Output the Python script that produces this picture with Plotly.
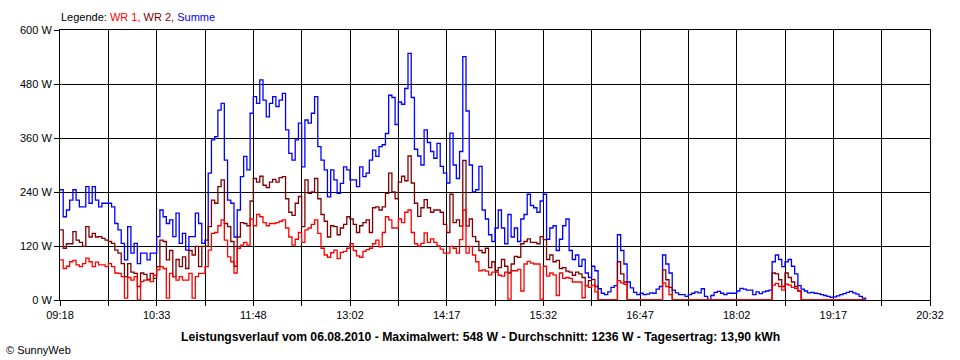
import plotly.graph_objects as go

# ---------------- data ----------------
START_LABEL = "09:18"          # first sample time
STEP_MIN = 2.5                 # sampling interval in minutes

# WR 1 (red)
wr1 = [
    89, 70, 75, 85, 88, 78, 74, 81, 93, 85,
    74, 84, 78, 78, 74, 81, 74, 60, 59, 52,
    4, 50, 44, 52, 0, 41, 44, 44, 41, 55,
    67, 74, 70, 4, 59, 52, 44, 52, 44, 44,
    59, 4, 52, 59, 59, 74, 111, 148, 150, 165,
    178, 133, 96, 85, 60, 115, 122, 128, 122, 180,
    165, 190, 185, 172, 165, 170, 170, 172, 175, 178,
    160, 140, 122, 135, 150, 128, 156, 160, 168, 178,
    148, 115, 100, 95, 105, 111, 92, 106, 108, 115,
    125, 110, 98, 95, 108, 112, 115, 125, 133, 118,
    150, 185, 178, 160, 160, 180, 172, 195, 200, 150,
    125, 120, 126, 149, 128, 136, 128, 120, 113, 104,
    104, 119, 115, 104, 134, 200, 104, 119, 100, 85,
    65, 67, 64, 56, 62, 62, 55, 53, 62, 2,
    65, 65, 68, 20, 80, 86, 82, 80, 80, 2,
    75, 53, 60, 56, 10, 60, 48, 50, 48, 40,
    40, 40, 5, 32, 28, 33, 18, 0, 0, 0,
    0, 0, 0, 43, 38, 35, 0, 0, 0, 0,
    0, 0, 0, 0, 0, 0, 0, 38, 30, 12,
    0, 0, 0, 0, 0, 0, 0, 0, 0, 0,
    0, 0, 0, 0, 0, 0, 0, 0, 0, 0,
    0, 0, 0, 0, 0, 0, 0, 0, 0, 0,
    0, 33, 37, 30, 22, 35, 33, 28, 26, 20,
    0, 0, 0, 0, 0, 0, 0, 0, 0, 0,
    0, 0, 0, 0, 0, 0, 0, 0, 0, 0,
    0,
]

# WR 2 (dark red)
wr2 = [
    156, 115, 125, 125, 152, 133, 128, 119, 163, 140,
    148, 140, 141, 137, 133, 130, 126, 111, 104, 81,
    52, 81, 62, 59, 30, 60, 57, 46, 59, 48,
    74, 133, 130, 89, 110, 52, 90, 74, 96, 70,
    110, 100, 119, 74, 119, 119, 163, 222, 215, 252,
    267, 170, 163, 130, 75, 140, 172, 170, 165, 220,
    270, 262, 275, 255, 250, 262, 268, 262, 272, 274,
    225, 195, 188, 215, 230, 163, 267, 237, 240, 270,
    225, 190, 175, 140, 165, 163, 145, 160, 168, 185,
    180, 168, 150, 165, 172, 178, 150, 205, 207, 200,
    207, 237, 282, 240, 225, 262, 275, 265, 320, 260,
    215, 186, 205, 223, 205, 195, 200, 200, 195, 168,
    150, 235, 172, 178, 164, 310, 164, 180, 141, 130,
    110, 105, 115, 72, 85, 65, 72, 90, 75, 60,
    80, 97, 95, 125, 130, 136, 128, 128, 125, 141,
    134, 90, 100, 85, 88, 70, 72, 64, 62, 55,
    62, 58, 50, 32, 43, 46, 30, 0, 0, 0,
    0, 0, 0, 85, 58, 40, 0, 0, 0, 0,
    0, 0, 0, 0, 0, 0, 0, 67, 45, 28,
    0, 0, 0, 0, 0, 0, 0, 0, 0, 0,
    0, 0, 0, 0, 0, 0, 0, 0, 0, 0,
    0, 0, 0, 0, 0, 0, 0, 0, 0, 0,
    0, 60, 58, 45, 30, 60, 50, 40, 30, 20,
    0, 0, 0, 0, 0, 0, 0, 0, 0, 0,
    0, 0, 0, 0, 0, 0, 0, 0, 0, 0,
    0,
]

# Summe (blue)
summe = [
    245, 185, 200, 222, 245, 222, 207, 207, 252, 215,
    252, 222, 207, 215, 215, 215, 207, 170, 156, 126,
    89, 163, 104, 126, 81, 104, 104, 89, 104, 104,
    141, 200, 185, 170, 178, 141, 193, 126, 148, 111,
    141, 141, 193, 170, 126, 133, 282, 356, 363, 422,
    437, 311, 222, 215, 140, 200, 274, 319, 289, 415,
    452, 437, 489, 444, 407, 437, 452, 430, 444, 459,
    378, 326, 311, 356, 393, 296, 400, 393, 415, 452,
    341, 311, 289, 229, 289, 267, 237, 259, 296, 289,
    267, 267, 252, 296, 274, 282, 311, 333, 319, 341,
    345, 370, 455, 450, 390, 440, 435, 470, 548, 450,
    335, 320, 300, 378, 350, 330, 315, 348, 297, 282,
    260, 371, 300, 270, 330, 541, 420, 300, 240, 245,
    297, 200, 180, 145, 130, 160, 200, 160, 125, 190,
    140, 160, 130, 180, 190, 235, 210, 205, 195, 220,
    235, 135, 160, 165, 110, 135, 165, 180, 110, 90,
    100, 75, 90, 60, 50, 75, 65, 25, 15, 12,
    18, 28, 32, 145, 110, 80, 40, 27, 17, 12,
    15, 12, 13, 16, 15, 24, 30, 100, 80, 60,
    22, 16, 12, 12, 8, 12, 15, 18, 16, 25,
    8, 0, 10, 17, 19, 15, 12, 15, 15, 15,
    20, 26, 24, 22, 22, 12, 18, 14, 18, 20,
    22, 85, 100, 90, 74, 85, 90, 75, 58, 32,
    24, 20, 16, 17, 15, 14, 12, 10, 8, 6,
    7, 9, 12, 14, 17, 19, 16, 13, 8, 4,
    0,
]

x_tick_labels = ["09:18", "", "10:33", "", "11:48", "", "13:02", "", "14:17", "",
                 "15:32", "", "16:47", "", "18:02", "", "19:17", "", "20:32"]
x_tick_step_min = 37.5
y_tick_values = [0, 120, 240, 360, 480, 600]

legend_prefix = "Legende: "
series_names = ["WR 1", "WR 2", "Summe"]
series_colors = ["#FF0000", "#800000", "#0000FF"]
title_text = ("Leistungsverlauf vom 06.08.2010 - Maximalwert: 548 W - "
              "Durchschnitt: 1236 W - Tagesertrag: 13,90 kWh")
footer_text = "\u00a9 SunnyWeb"

# ---------------- figure ----------------
minutes = [i * STEP_MIN for i in range(len(summe))]
x_tick_vals = [i * x_tick_step_min for i in range(len(x_tick_labels))]

fig = go.Figure()
# draw Summe first, then WR 2, then WR 1 on top
for name, vals, col in [(series_names[2], summe, series_colors[2]),
                        (series_names[1], wr2, series_colors[1]),
                        (series_names[0], wr1, series_colors[0])]:
    fig.add_trace(go.Scatter(x=minutes[:len(vals)], y=vals, mode="lines", name=name,
                             line=dict(color=col, width=1.3, shape="hv"),
                             hoverinfo="skip"))

FONT = "Liberation Sans, Arial, sans-serif"
fig.update_layout(
    width=960, height=360,
    margin=dict(l=60, r=30, t=30, b=60, pad=0),
    paper_bgcolor="white", plot_bgcolor="white",
    showlegend=False,
    font=dict(family=FONT, size=11, color="black"),
)
axis_common = dict(showgrid=True, gridcolor="black", gridwidth=1,
                   showline=True, linecolor="black", linewidth=1, mirror=True,
                   ticks="outside", ticklen=5, tickcolor="black", tickwidth=1,
                   zeroline=False, fixedrange=True,
                   tickfont=dict(family=FONT, size=11, color="black"))
fig.update_xaxes(range=[0, x_tick_vals[-1]], tickmode="array",
                 tickvals=x_tick_vals, ticktext=x_tick_labels, **axis_common)
fig.update_yaxes(range=[0, 600], tickmode="array", tickvals=y_tick_values,
                 ticktext=[f"{v} W" for v in y_tick_values], **axis_common)

legend_html = (legend_prefix +
               f"<span style='color:{series_colors[0]}'>{series_names[0]},</span> "
               f"<span style='color:{series_colors[1]}'>{series_names[1]},</span> "
               f"<span style='color:{series_colors[2]}'>{series_names[2]}</span>")

fig.add_annotation(text=legend_html, xref="paper", yref="paper", x=0, y=1.048,
                   xanchor="left", yanchor="middle", showarrow=False,
                   font=dict(family=FONT, size=11, color="black"), borderpad=0)
fig.add_annotation(text=f"<b>{title_text}</b>", xref="paper", yref="paper",
                   x=0.4828, y=-0.137, xanchor="center", yanchor="middle",
                   showarrow=False, font=dict(family=FONT, size=12.2, color="black"),
                   borderpad=0)
fig.add_annotation(text=footer_text, xref="paper", yref="paper",
                   x=-0.0632, y=-0.185, xanchor="left", yanchor="middle",
                   showarrow=False, font=dict(family=FONT, size=11, color="black"),
                   borderpad=0)

fig.write_html("out.html", config={"displayModeBar": False},
               post_script="document.body.style.margin='0';document.body.style.overflow='hidden';")
